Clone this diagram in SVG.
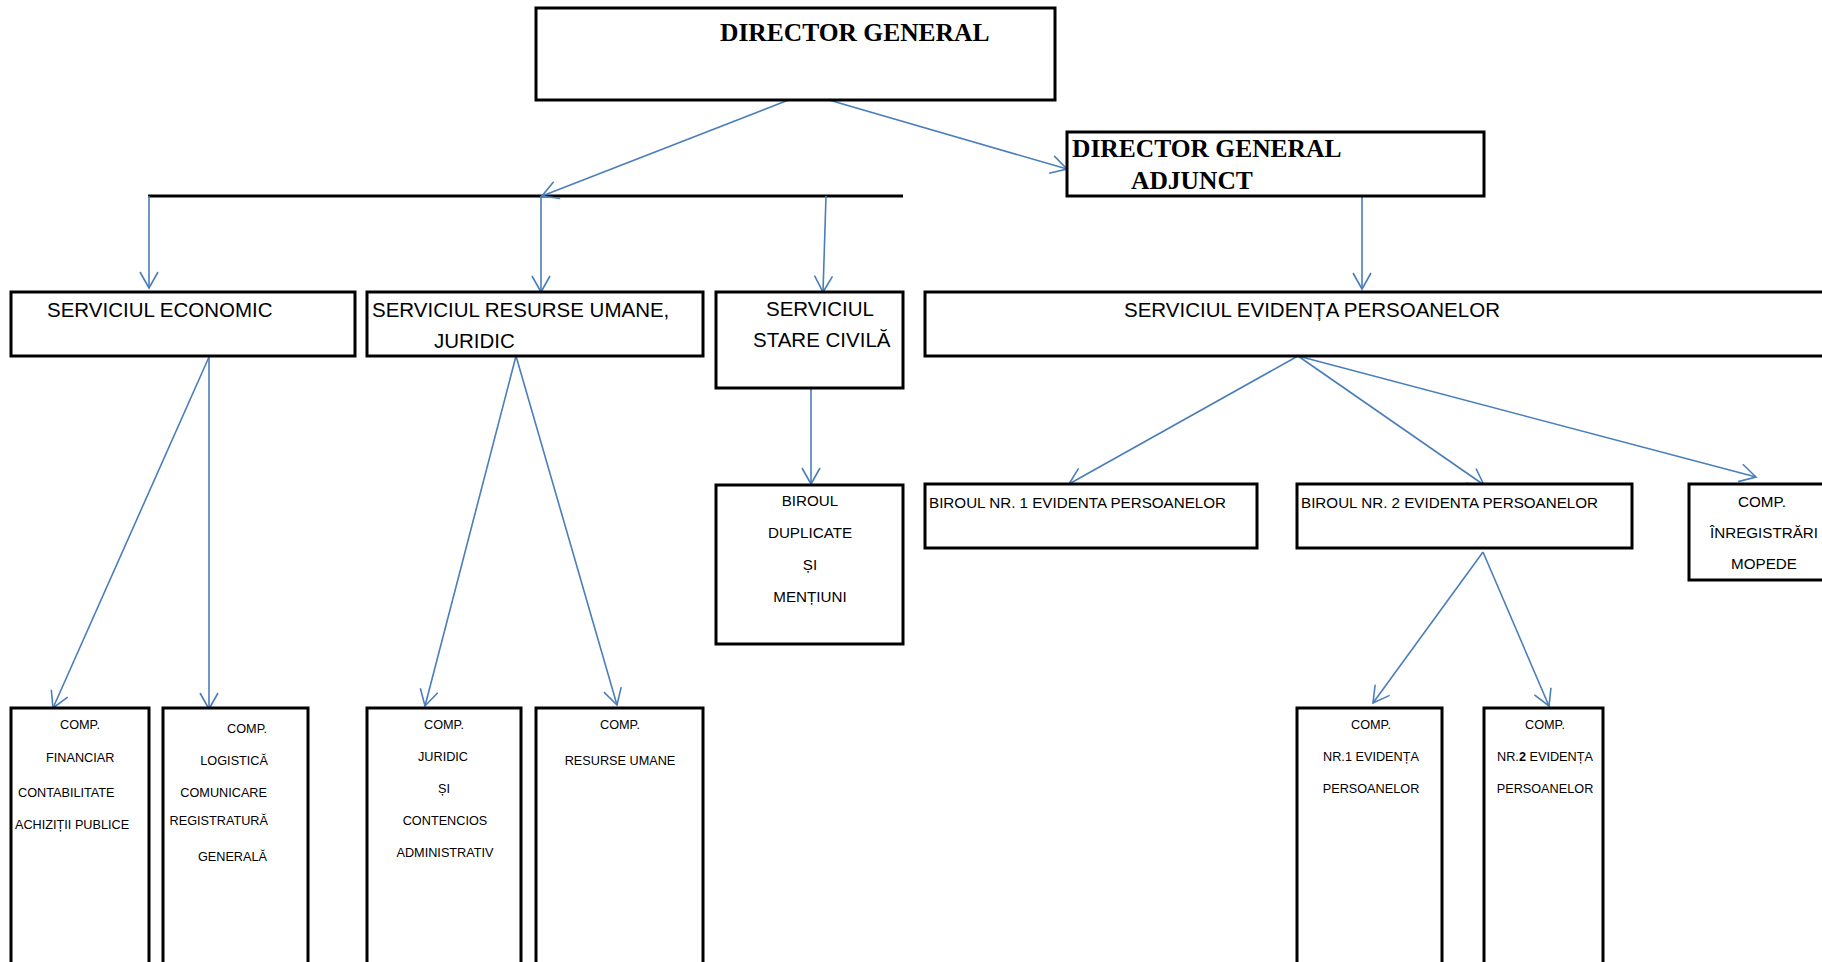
<svg xmlns="http://www.w3.org/2000/svg" width="1822" height="962" viewBox="0 0 1822 962">
<style>
.box{fill:#fff;stroke:#000;stroke-width:3}
.t20{font-family:"Liberation Sans",Arial,sans-serif;font-size:20.5px;fill:#000}
.t15{font-family:"Liberation Sans",Arial,sans-serif;font-size:15.2px;fill:#000}
.t13{font-family:"Liberation Sans",Arial,sans-serif;font-size:12.7px;fill:#000}
.tb{font-family:"Liberation Serif","Times New Roman",serif;font-size:25.5px;font-weight:bold;fill:#000}
.c{text-anchor:middle}
.r{text-anchor:end}
.con{fill:none;stroke:#4a7ebb;stroke-width:1.6;marker-end:url(#ah)}
.bar{fill:none;stroke:#000;stroke-width:3}
</style>
<defs>
<marker id="ah" markerUnits="userSpaceOnUse" viewBox="-18 -11 20 22" markerWidth="20" markerHeight="22" refX="0" refY="0" orient="auto" overflow="visible">
<path d="M-16,-9 L0,0 L-16,9" fill="none" stroke="#4a7ebb" stroke-width="1.6"/>
</marker>
</defs>
<rect width="1822" height="962" fill="#fff"/>
<g id="connectors">
<path class="bar" d="M148,196 H903"/>
<path class="con" d="M791,99 L542,196"/>
<path class="con" d="M822,98 L1067,169"/>
<path class="con" d="M149,196 V288"/>
<path class="con" d="M541,196 V292"/>
<path class="con" d="M826,196 L823,292"/>
<path class="con" d="M1362,196 V289"/>
<path class="con" d="M209,357 L53,708"/>
<path class="con" d="M209,357 V709"/>
<path class="con" d="M516,356 L425,706"/>
<path class="con" d="M516,356 L617,705"/>
<path class="con" d="M811,388 V484"/>
<path class="con" d="M1298,356 L1069,484"/>
<path class="con" d="M1298,356 L1484,485"/>
<path class="con" d="M1298,356 L1756,477"/>
<path class="con" d="M1483,552 L1373,703"/>
<path class="con" d="M1483,552 L1549,706"/>
</g>
<g id="director-general">
<rect class="box" x="536" y="8" width="519" height="92"/>
<text class="tb" x="720" y="41">DIRECTOR GENERAL</text>
</g>
<g id="director-general-adjunct">
<rect class="box" x="1067" y="132" width="417" height="64"/>
<text class="tb" x="1072" y="157">DIRECTOR GENERAL</text>
<text class="tb" x="1131" y="189">ADJUNCT</text>
</g>
<g id="serviciul-economic">
<rect class="box" x="11" y="292" width="344" height="64"/>
<text class="t20" x="47" y="317">SERVICIUL ECONOMIC</text>
</g>
<g id="serviciul-resurse-umane">
<rect class="box" x="367" y="292" width="336" height="64"/>
<text class="t20" x="372" y="317">SERVICIUL RESURSE UMANE,</text>
<text class="t20" x="434" y="348">JURIDIC</text>
</g>
<g id="serviciul-stare-civila">
<rect class="box" x="716" y="292" width="187" height="96"/>
<text class="t20" x="766" y="316">SERVICIUL</text>
<text class="t20" x="753" y="347">STARE CIVILĂ</text>
</g>
<g id="serviciul-evidenta">
<rect class="box" x="925" y="292" width="1000" height="64"/>
<text class="t20" x="1124" y="317">SERVICIUL EVIDENȚA PERSOANELOR</text>
</g>
<g id="biroul-duplicate">
<rect class="box" x="716" y="485" width="187" height="159"/>
<text class="t15 c" x="810" y="506">BIROUL</text>
<text class="t15 c" x="810" y="538">DUPLICATE</text>
<text class="t15 c" x="810" y="570">ȘI</text>
<text class="t15 c" x="810" y="602">MENȚIUNI</text>
</g>
<g id="biroul-nr1">
<rect class="box" x="925" y="484" width="332" height="64"/>
<text class="t15" x="929" y="508">BIROUL NR. 1 EVIDENTA PERSOANELOR</text>
</g>
<g id="biroul-nr2">
<rect class="box" x="1297" y="484" width="335" height="64"/>
<text class="t15" x="1301" y="508">BIROUL NR. 2 EVIDENTA PERSOANELOR</text>
</g>
<g id="comp-inregistrari">
<rect class="box" x="1689" y="484" width="200" height="96"/>
<text class="t15 c" x="1762" y="507">COMP.</text>
<text class="t15 c" x="1764" y="538">ÎNREGISTRĂRI</text>
<text class="t15 c" x="1764" y="569">MOPEDE</text>
</g>
<g id="comp-financiar">
<rect class="box" x="11" y="708" width="138" height="300"/>
<text class="t13" x="60" y="729">COMP.</text>
<text class="t13" x="46" y="762">FINANCIAR</text>
<text class="t13" x="18" y="797">CONTABILITATE</text>
<text class="t13" x="15" y="829">ACHIZIȚII PUBLICE</text>
</g>
<g id="comp-logistica">
<rect class="box" x="163" y="708" width="145" height="300"/>
<text class="t13 r" x="267" y="733">COMP.</text>
<text class="t13 r" x="268" y="765">LOGISTICĂ</text>
<text class="t13 r" x="267" y="797">COMUNICARE</text>
<text class="t13 r" x="268" y="825">REGISTRATURĂ</text>
<text class="t13 r" x="267" y="861">GENERALĂ</text>
</g>
<g id="comp-juridic">
<rect class="box" x="367" y="708" width="154" height="300"/>
<text class="t13 c" x="444" y="729">COMP.</text>
<text class="t13 c" x="443" y="761">JURIDIC</text>
<text class="t13 c" x="444" y="793">ȘI</text>
<text class="t13 c" x="445" y="825">CONTENCIOS</text>
<text class="t13 c" x="445" y="857">ADMINISTRATIV</text>
</g>
<g id="comp-resurse-umane">
<rect class="box" x="536" y="708" width="167" height="300"/>
<text class="t13 c" x="620" y="729">COMP.</text>
<text class="t13 c" x="620" y="765">RESURSE UMANE</text>
</g>
<g id="comp-nr1">
<rect class="box" x="1297" y="708" width="145" height="300"/>
<text class="t13 c" x="1371" y="729">COMP.</text>
<text class="t13 c" x="1371" y="761">NR.1 EVIDENȚA</text>
<text class="t13 c" x="1371" y="793">PERSOANELOR</text>
</g>
<g id="comp-nr2">
<rect class="box" x="1484" y="708" width="119" height="300"/>
<text class="t13 c" x="1545" y="729">COMP.</text>
<text class="t13 c" x="1545" y="761">NR.<tspan font-weight="bold">2</tspan> EVIDENȚA</text>
<text class="t13 c" x="1545" y="793">PERSOANELOR</text>
</g>
</svg>
